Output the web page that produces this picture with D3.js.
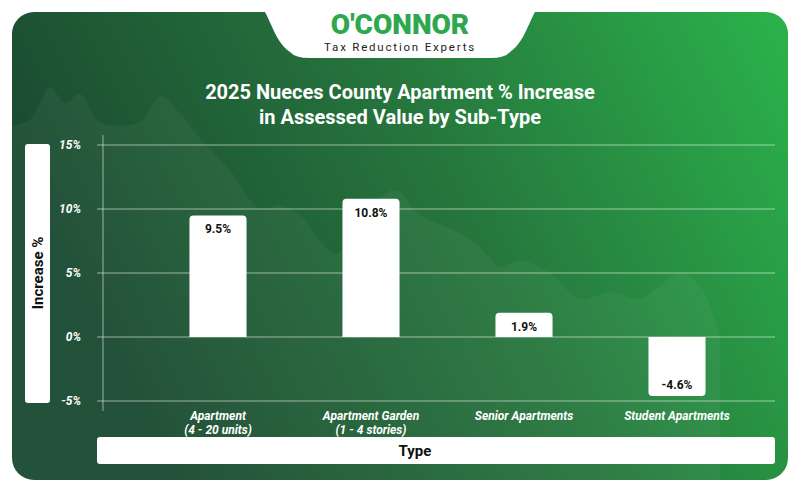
<!DOCTYPE html>
<html><head><meta charset="utf-8">
<script src="https://cdn.jsdelivr.net/npm/d3@7"></script>
<style>body{margin:0;background:#fff}svg{display:block;font-family:Roboto,sans-serif}</style>
</head><body>
<svg id="chart" width="800" height="492"></svg>
<script>
var categories = [["Apartment", "(4 - 20 units)"], ["Apartment Garden", "(1 - 4 stories)"], ["Senior Apartments"], ["Student Apartments"]];
var values = [9.5, 10.8, 1.9, -4.6];
var yTicks = [-5, 0, 5, 10, 15];
// backdrop silhouette (x in px, y in %)
var hillX = [12, 30, 50, 65, 80, 100, 140, 160, 180, 200, 230, 260, 280, 300, 320, 335, 350, 370, 395, 420, 450, 480, 500, 520, 550, 580, 610, 640, 660, 680, 700, 720];
var hillY = [16.5, 17, 19.5, 18.3, 19, 16.8, 16.8, 18.8, 17.5, 15.5, 13, 10, 10.3, 9.5, 7.5, 6.5, 7.5, 10, 11.5, 9.5, 8.5, 7, 5.5, 6, 5, 3, 3.5, 3, 4, 5, 4, 0];

var svg = d3.select("#chart");
var defs = svg.append("defs");
var grad = defs.append("linearGradient").attr("id", "bg").attr("x1", "0").attr("x2", "1").attr("y1", "0.3").attr("y2", "0");
grad.append("stop").attr("offset", "0").attr("stop-color", "#1b4a31");
grad.append("stop").attr("offset", "0.5").attr("stop-color", "#26763d");
grad.append("stop").attr("offset", "1").attr("stop-color", "#2bb34b");

svg.append("rect").attr("x", 12).attr("y", 12).attr("width", 776).attr("height", 468).attr("rx", 22).attr("fill", "url(#bg)");

var y = d3.scaleLinear().domain([-5, 15]).range([401, 145]);
var x = d3.scaleBand().domain(d3.range(categories.length)).range([141.5, 753.5]).paddingInner(0.627).paddingOuter(0.3135);

// silhouette
var hill = d3.area().x(function (d, i) { return hillX[i]; }).y0(480).y1(function (d) { return y(d); }).curve(d3.curveCatmullRom);
svg.append("path").datum(hillY).attr("d", hill).attr("fill", "#ffffff").attr("opacity", 0.045);

// logo tab
svg.append("path").attr("d", "M255,0 L545,0 C530,10 528,40 510,52 Q505,58 490,58 L310,58 Q295,58 290,52 C272,40 270,10 255,0 Z").attr("fill", "#fff");
svg.append("text").attr("x", 400).attr("y", 34).attr("text-anchor", "middle").attr("font-size", 28).attr("font-weight", 900).attr("fill", "#2ea84e").text("O'CONNOR");
svg.append("text").attr("x", 400).attr("y", 51).attr("text-anchor", "middle").attr("font-size", 11.5).attr("letter-spacing", 1.8).attr("fill", "#222").text("Tax Reduction Experts");

// title
svg.append("text").attr("x", 400).attr("y", 99).attr("text-anchor", "middle").attr("font-size", 20).attr("font-weight", 700).attr("fill", "#fff").text("2025 Nueces County Apartment % Increase");
svg.append("text").attr("x", 400).attr("y", 124).attr("text-anchor", "middle").attr("font-size", 20).attr("font-weight", 700).attr("fill", "#fff").text("in Assessed Value by Sub-Type");

// grid
svg.append("g").selectAll("line").data(yTicks).join("line")
    .attr("x1", 97).attr("x2", 775).attr("y1", function (d) { return y(d); }).attr("y2", function (d) { return y(d); })
    .attr("stroke", "rgba(255,255,255,0.55)").attr("stroke-width", 1);
svg.append("line").attr("x1", 103).attr("x2", 103).attr("y1", 135).attr("y2", 411).attr("stroke", "rgba(255,255,255,0.55)");
svg.append("g").selectAll("text").data(yTicks).join("text")
    .attr("x", 81).attr("y", function (d) { return y(d) + 4; }).attr("text-anchor", "end")
    .attr("font-size", 12).attr("font-weight", 700).attr("font-style", "italic").attr("fill", "#fff")
    .text(function (d) { return d + "%"; });

// bars
function barPath(d, i) {
    var x0 = x(i), w = x.bandwidth(), r = 4;
    var top = y(Math.max(d, 0)), bot = y(Math.min(d, 0));
    if (d >= 0) return "M" + x0 + "," + bot + "V" + (top + r) + "Q" + x0 + "," + top + " " + (x0 + r) + "," + top + "H" + (x0 + w - r) + "Q" + (x0 + w) + "," + top + " " + (x0 + w) + "," + (top + r) + "V" + bot + "Z";
    return "M" + x0 + "," + top + "V" + (bot - r) + "Q" + x0 + "," + bot + " " + (x0 + r) + "," + bot + "H" + (x0 + w - r) + "Q" + (x0 + w) + "," + bot + " " + (x0 + w) + "," + (bot - r) + "V" + top + "Z";
}
svg.append("g").selectAll("path").data(values).join("path").attr("d", barPath).attr("fill", "#fff");
svg.append("g").selectAll("text").data(values).join("text")
    .attr("x", function (d, i) { return x(i) + x.bandwidth() / 2; })
    .attr("y", function (d) { return d >= 0 ? y(d) + 18 : y(d) - 7; })
    .attr("text-anchor", "middle").attr("font-size", 12).attr("font-weight", 700).attr("fill", "#111")
    .text(function (d) { return d.toFixed(1) + "%"; });

// category labels
var cat = svg.append("g").selectAll("text").data(categories).join("text")
    .attr("x", function (d, i) { return x(i) + x.bandwidth() / 2; }).attr("y", 420)
    .attr("text-anchor", "middle").attr("font-size", 12).attr("font-weight", 700).attr("font-style", "italic").attr("fill", "#fff");
cat.selectAll("tspan").data(function (d) { return d; }).join("tspan")
    .attr("x", function () { return this.parentNode.getAttribute("x"); })
    .attr("dy", function (d, j) { return j ? 14 : 0; }).text(function (d) { return d; });

// axis title boxes
svg.append("rect").attr("x", 25).attr("y", 144).attr("width", 25).attr("height", 259).attr("rx", 3).attr("fill", "#fff");
svg.append("text").attr("transform", "translate(43,273) rotate(-90)").attr("text-anchor", "middle").attr("font-size", 15).attr("font-weight", 700).attr("fill", "#111").text("Increase %");
svg.append("rect").attr("x", 97).attr("y", 437).attr("width", 678).attr("height", 27).attr("rx", 3).attr("fill", "#fff");
svg.append("text").attr("x", 415).attr("y", 456).attr("text-anchor", "middle").attr("font-size", 15).attr("font-weight", 700).attr("fill", "#111").text("Type");
</script>
</body></html>
